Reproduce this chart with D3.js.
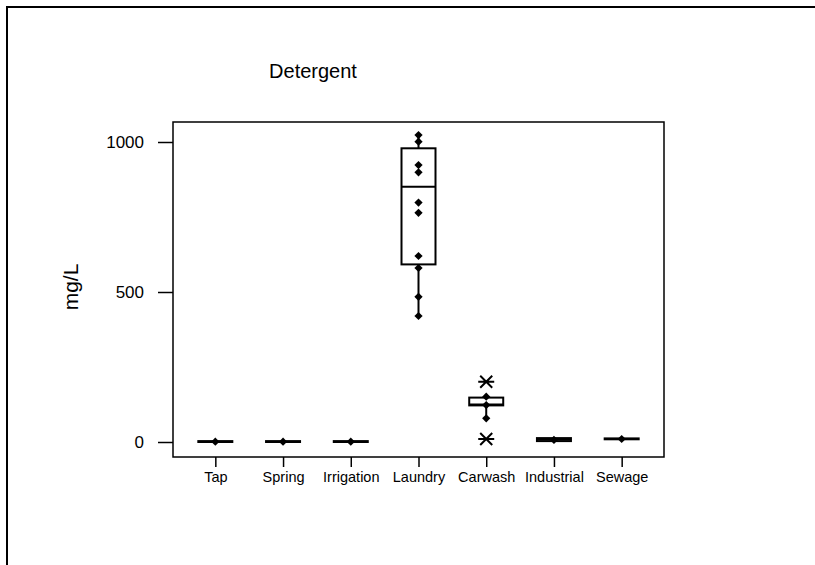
<!DOCTYPE html>
<html>
<head>
<meta charset="utf-8">
<script src="https://cdn.jsdelivr.net/npm/d3@7"></script>
<style>
  html, body { margin: 0; background: #fff; overflow: hidden; }
  svg { display: block; }
  text { font-family: Arial, "Liberation Sans", sans-serif; fill: #000; }
</style>
</head>
<body>
<div id="chart"></div>
<script>
// data
var categories = ["Tap", "Spring", "Irrigation", "Laundry", "Carwash", "Industrial", "Sewage"];
var q1 = [0, 0, 0, 592, 122, 3, 9];
var medians = [0, 0, 0, 851, 125, 8, 10];
var q3 = [3, 3, 3, 979, 148, 13, 12];
var whiskerLow = [0, 0, 0, 420, 79, 3, 9];
var whiskerHigh = [3, 3, 3, 1023, 151, 13, 12];
var points = [
  [1], [1], [1],
  [1023, 1001, 923, 899, 798, 764, 620, 580, 484, 420],
  [151, 123, 79],
  [7], [10]
];
var outliers = [[], [], [], [], [201, 10], [], []];
var yTicks = [0, 500, 1000];

var W = 815, H = 565;
var plot = { left: 173, right: 664, top: 122, bottom: 457 };

var svg = d3.select("#chart").append("svg")
  .attr("width", W).attr("height", H);

// outer frame: only top and left edges fall inside the picture
svg.append("path")
  .attr("d", "M7," + (H + 10) + "L7,7L" + (W + 10) + ",7")
  .attr("fill", "none").attr("stroke", "#000").attr("stroke-width", 2);

var x = d3.scalePoint()
  .domain(categories)
  .range([plot.left, plot.right])
  .padding(0.625);

var y = d3.scaleLinear()
  .domain([0, 1000])
  .range([442, 142]);

// plot box
svg.append("rect")
  .attr("x", plot.left).attr("y", plot.top)
  .attr("width", plot.right - plot.left).attr("height", plot.bottom - plot.top)
  .attr("fill", "none").attr("stroke", "#000").attr("stroke-width", 1.5);

// y axis
var yAxis = d3.axisLeft(y).tickValues(yTicks).tickFormat(d3.format("d"))
  .tickSize(15).tickPadding(14);
var gy = svg.append("g")
  .attr("transform", "translate(" + plot.left + ",0)")
  .call(yAxis);
gy.select(".domain").remove();
gy.selectAll(".tick line").attr("stroke", "#000").attr("stroke-width", 1.5);
gy.selectAll(".tick text").style("font-size", "17px").attr("font-family", null);

// x axis
var xAxis = d3.axisBottom(x).tickSize(10).tickPadding(5);
var gx = svg.append("g")
  .attr("transform", "translate(0," + plot.bottom + ")")
  .call(xAxis);
gx.select(".domain").remove();
gx.selectAll(".tick line").attr("stroke", "#000").attr("stroke-width", 1.5);
gx.selectAll(".tick text").style("font-size", "14.5px").attr("font-family", null);

// titles
svg.append("text")
  .attr("x", 313).attr("y", 78)
  .attr("text-anchor", "middle")
  .style("font-size", "20px")
  .text("Detergent");

svg.append("text")
  .attr("transform", "translate(78,287) rotate(-90)")
  .attr("text-anchor", "middle")
  .style("font-size", "21px")
  .text("mg/L");

// boxes
var boxW = 34;
var boxData = categories.map(function (c, i) {
  return { cat: c, q1: q1[i], med: medians[i], q3: q3[i], lo: whiskerLow[i], hi: whiskerHigh[i] };
});

var boxes = svg.append("g").selectAll("g").data(boxData).enter().append("g");

boxes.append("line")
  .attr("x1", function (d) { return x(d.cat); })
  .attr("x2", function (d) { return x(d.cat); })
  .attr("y1", function (d) { return y(d.lo); })
  .attr("y2", function (d) { return y(d.q1); })
  .attr("stroke", "#000").attr("stroke-width", 2);

boxes.append("line")
  .attr("x1", function (d) { return x(d.cat); })
  .attr("x2", function (d) { return x(d.cat); })
  .attr("y1", function (d) { return y(d.q3); })
  .attr("y2", function (d) { return y(d.hi); })
  .attr("stroke", "#000").attr("stroke-width", 2);

boxes.append("rect")
  .attr("x", function (d) { return x(d.cat) - boxW / 2; })
  .attr("y", function (d) { return y(d.q3); })
  .attr("width", boxW)
  .attr("height", function (d) { return Math.max(0, y(d.q1) - y(d.q3)); })
  .attr("fill", "none").attr("stroke", "#000").attr("stroke-width", 2);

boxes.append("line")
  .attr("x1", function (d) { return x(d.cat) - boxW / 2; })
  .attr("x2", function (d) { return x(d.cat) + boxW / 2; })
  .attr("y1", function (d) { return y(d.med); })
  .attr("y2", function (d) { return y(d.med); })
  .attr("stroke", "#000").attr("stroke-width", 2);

// individual values (diamonds)
var ptData = [];
categories.forEach(function (c, i) {
  points[i].forEach(function (v) { ptData.push({ cat: c, v: v }); });
});
var diamond = d3.symbol().type(d3.symbolSquare).size(34);
svg.append("g").selectAll("path").data(ptData).enter().append("path")
  .attr("d", diamond)
  .attr("transform", function (d) { return "translate(" + x(d.cat) + "," + y(d.v) + ") rotate(45)"; })
  .attr("fill", "#000");

// outliers (asterisks)
var outData = [];
categories.forEach(function (c, i) {
  outliers[i].forEach(function (v) { outData.push({ cat: c, v: v }); });
});
svg.append("g").selectAll("path").data(outData).enter().append("path")
  .attr("d", "M-8,0L8,0M-6,-6L6,6M-6,6L6,-6")
  .attr("transform", function (d) { return "translate(" + x(d.cat) + "," + y(d.v) + ")"; })
  .attr("stroke", "#000").attr("stroke-width", 2).attr("fill", "none");
</script>
</body>
</html>
